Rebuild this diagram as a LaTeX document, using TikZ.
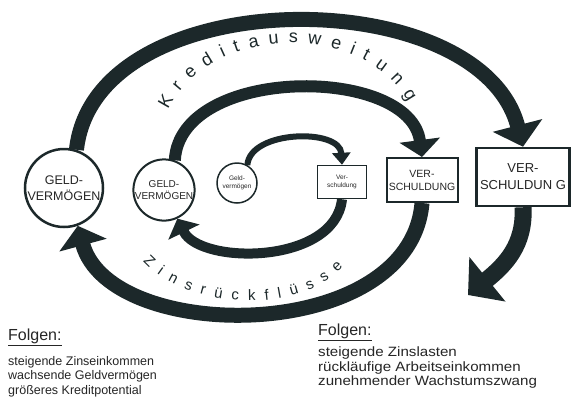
\documentclass[tikz,border=0pt]{standalone}
\usepackage{fontspec}
\setmainfont{Liberation Sans}
\newfontfamily\breit[FakeStretch=1.12]{Liberation Sans}
\usepackage{xcolor}
\usetikzlibrary{arrows.meta,decorations.text}
\definecolor{ink}{RGB}{28,40,42}

\begin{document}
\begin{tikzpicture}[x=1pt,y=-1pt,
  geld/.style={circle,draw=ink,fill=white,align=center,inner sep=0pt,text=black!85},
  schuld/.style={rectangle,draw=ink,fill=white,align=center,inner sep=0pt,text=black!85},
  flow/.style={draw=ink,line cap=butt},
  folgen/.style={font=\fontsize{16}{18}\selectfont,anchor=base west,inner sep=0pt,text=black!85},
  liste/.style={font=\fontsize{12.5}{14.5}\selectfont,align=left,anchor=north west,inner sep=0pt,text=black!85}]
\useasboundingbox[fill=white] (0,0) rectangle (572,408);

% Geldvermoegen links, Verschuldung rechts
\node[geld,minimum size=78pt,line width=2.5pt,font=\fontsize{12.5}{16}\selectfont] (gvL) at (64,188) {GELD-\\VERMÖGEN};
\node[geld,minimum size=58pt,line width=2pt,font=\fontsize{10}{12}\selectfont] (gvM) at (164,190) {GELD-\\VERMÖGEN};
\node[geld,minimum size=40pt,line width=1.5pt,font=\fontsize{6.5}{8}\selectfont] (gvS) at (237,183) {Geld-\\vermögen};
\node[schuld,minimum width=49pt,minimum height=33pt,line width=1.5pt,font=\fontsize{6.5}{8}\selectfont] (vsS) at (342,182) {Ver-\\schuldung};
\node[schuld,minimum width=71pt,minimum height=44pt,line width=2pt,font=\fontsize{10.5}{13}\selectfont] (vsM) at (422,180) {VER-\\SCHULDUNG};
\node[schuld,minimum width=93pt,minimum height=58pt,line width=2.5pt,font=\fontsize{13}{17}\selectfont] (vsL) at (523,177) {VER-\\SCHULDUN G};
\coordinate (ende) at (468,295);

% Kreditausweitung (oben)
\draw[flow,line width=15pt,-{Triangle[width=50pt,length=22pt]}] (gvL.72) .. controls (95,-20) and (480,-20) .. (vsL.north);
\draw[flow,line width=12pt,-{Triangle[width=40pt,length=17pt]}] (gvM.70) .. controls (180,65) and (410,65) .. (vsM.north);
\draw[flow,line width=6pt,-{Triangle[width=18pt,length=12pt]}] (gvS.60) .. controls (250,130) and (340,128) .. (vsS.north);

% Zinsrueckfluesse (unten)
\draw[flow,line width=10pt,-{Triangle[width=34pt,length=15pt]}] (vsS.south) .. controls (335,265) and (200,265) .. (gvM.-65);
\draw[flow,line width=15pt,-{Triangle[width=48pt,length=20pt]}] (vsM.south) .. controls (410,345) and (110,345) .. (gvL.-70);
\draw[flow,line width=17pt,-{Triangle[width=56pt,length=25pt]}] (vsL.south) .. controls (525,245) and (505,265) .. (ende);

% Beschriftung der Boegen
\path[decorate,decoration={text along path,text align={fit to path},text color=ink,
  text={|\fontsize{18}{18}\selectfont|Kreditausweitung}}]
  (168,110) .. controls (212,22) and (364,22) .. (408,102);
\path[decorate,decoration={text along path,text align={fit to path},text color=ink,
  text={|\fontsize{15}{15}\selectfont|Zinsrückflüsse}}]
  (143,261) .. controls (190,312) and (300,314) .. (343,267);

% Folgen
\node[folgen] (fgL) at (8,340) {\underline{Folgen:}};
\node[liste] (lsL) at (8,356) {steigende Zinseinkommen\\wachsende Geldvermögen\\größeres Kreditpotential};
\node[folgen] (fgR) at (318,335) {\underline{Folgen:}};
\node[liste,font=\breit\fontsize{13.5}{14.5}\selectfont] (lsR) at (318,347) {steigende Zinslasten\\rückläufige Arbeitseinkommen\\zunehmender Wachstumszwang};
\end{tikzpicture}
\end{document}
